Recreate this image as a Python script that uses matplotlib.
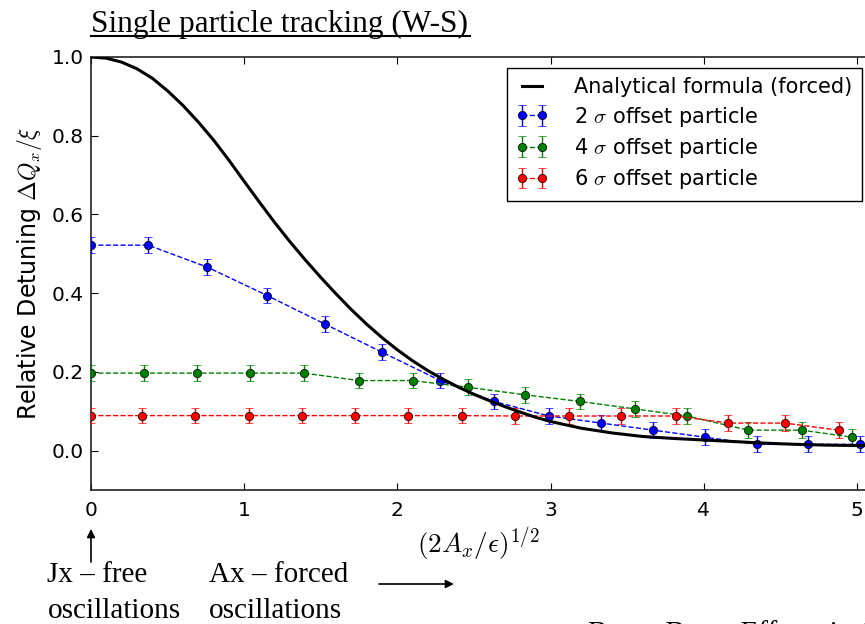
import matplotlib
matplotlib.use("Agg")
import matplotlib.pyplot as plt

plt.rcParams['mathtext.fontset'] = 'cm'
plt.rcParams['font.family'] = ['DejaVu Sans']

# Analytical curve
curve_x = [0.0, 0.1, 0.2, 0.3, 0.4, 0.5, 0.6, 0.7, 0.8, 0.9, 1.0, 1.1, 1.2, 1.3, 1.4, 1.5,
           1.6, 1.7, 1.8, 1.9, 2.0, 2.1, 2.2, 2.3, 2.4, 2.5, 2.6, 2.7, 2.8, 2.9, 3.0, 3.2,
           3.4, 3.6, 3.8, 4.0, 4.2, 4.4, 4.6, 4.8, 5.0, 5.3]
curve_y = [1.0, 0.997, 0.987, 0.970, 0.946, 0.914, 0.877, 0.835, 0.789, 0.738, 0.684, 0.631,
           0.579, 0.530, 0.484, 0.440, 0.398, 0.358, 0.321, 0.287, 0.256, 0.228, 0.203,
           0.181, 0.161, 0.143, 0.127, 0.112, 0.098, 0.085, 0.074, 0.057, 0.045, 0.036,
           0.031, 0.027, 0.023, 0.019, 0.016, 0.014, 0.013, 0.012]

# 2 sigma
b_x = [0.0, 0.373, 0.76, 1.15, 1.53, 1.90, 2.28, 2.63, 2.99, 3.33, 3.67, 4.01, 4.35, 4.68, 5.02]
b_y = [0.522, 0.522, 0.466, 0.394, 0.321, 0.250, 0.178, 0.125, 0.088, 0.070, 0.052, 0.034,
       0.016, 0.016, 0.016]
# 4 sigma
g_x = [0.0, 0.347, 0.693, 1.04, 1.39, 1.75, 2.10, 2.46, 2.83, 3.19, 3.55, 3.89, 4.29, 4.64, 4.97]
g_y = [0.197, 0.197, 0.197, 0.197, 0.197, 0.178, 0.178, 0.161, 0.142, 0.125, 0.106, 0.088,
       0.052, 0.052, 0.034]
# 6 sigma
r_x = [0.0, 0.334, 0.682, 1.03, 1.377, 1.72, 2.07, 2.42, 2.77, 3.12, 3.46, 3.82, 4.16, 4.53, 4.88]
r_y = [0.089, 0.089, 0.089, 0.089, 0.089, 0.089, 0.089, 0.089, 0.088, 0.088, 0.088, 0.088,
       0.070, 0.070, 0.052]
err = 0.02

labels = ['Analytical formula (forced)', r'2 $\sigma$ offset particle',
          r'4 $\sigma$ offset particle', r'6 $\sigma$ offset particle']

W, H = 865, 624
fig = plt.figure(figsize=(W / 100, H / 100), dpi=100)
ax = fig.add_axes([91 / W, (H - 490) / H, 6 * 153.2 / W, (490 - 57) / H])

ax.plot(curve_x, curve_y, color='black', lw=2.2, label=labels[0], zorder=4)
for xs, ys, c, lab in [(b_x, b_y, 'b', labels[1]), (g_x, g_y, 'g', labels[2]), (r_x, r_y, 'r', labels[3])]:
    ax.errorbar(xs, ys, yerr=err, fmt='o', ls='--', color=c, lw=1, ms=6, mec='black',
                mew=0.5, ecolor=c, elinewidth=1, capsize=3, label=lab, zorder=3)

ax.set_xlim(0, 6)
ax.set_ylim(-0.1, 1.0)
ax.set_xticks([0, 1, 2, 3, 4, 5, 6])
ax.set_yticks([0.0, 0.2, 0.4, 0.6, 0.8, 1.0])
ax.set_yticklabels(['0.0', '0.2', '0.4', '0.6', '0.8', '1.0'])
ax.tick_params(direction='in', top=True, right=True, length=5, width=0.8, labelsize=14.5)
ax.tick_params(axis='x', pad=8)
ax.tick_params(axis='y', pad=5)
for s in ax.spines.values():
    s.set_color('#222222')
    s.set_linewidth(1.2)

ax.set_ylabel(r'Relative Detuning $\Delta Q_x/\xi$', fontsize=17, labelpad=6)

leg = ax.legend(loc='upper right', bbox_to_anchor=(862 / W, 1 - 68 / H),
                bbox_transform=fig.transFigure, borderaxespad=0, fontsize=15, numpoints=2,
                fancybox=False, framealpha=1, edgecolor='black',
                handlelength=1.55, handletextpad=1.25, labelspacing=0.35, borderpad=0.45)
leg.get_frame().set_linewidth(1.0)

# x label
fig.text(478 / W, 1 - 545 / H, r'$(2A_x/\epsilon)^{1/2}$', fontsize=19.5, ha='center', va='center')

# title with underline
serif = 'Liberation Serif'
fig.text(91 / W, 1 - 32 / H, 'Single particle tracking (W-S)', family=serif, fontsize=22.5,
         ha='left', va='baseline')
fig.add_artist(plt.Line2D([91 / W, 470 / W], [1 - 36 / H, 1 - 36 / H], color='black', lw=1.5))

# bottom annotations
fig.text(47 / W, 1 - 582 / H, 'Jx \u2013 free', family=serif, fontsize=21, ha='left', va='baseline')
fig.text(48 / W, 1 - 618 / H, 'oscillations', family=serif, fontsize=21, ha='left', va='baseline')
fig.text(209 / W, 1 - 582 / H, 'Ax \u2013 forced', family=serif, fontsize=21, ha='left', va='baseline')
fig.text(209 / W, 1 - 618 / H, 'oscillations', family=serif, fontsize=21, ha='left', va='baseline')
fig.text(588 / W, 1 - 621 / H, 'Beam-Beam Effects in Circular Colliders', family=serif,
         fontsize=21, ha='left', va='top')

ap = dict(arrowstyle='-|>', mutation_scale=12, color='black', lw=1.2, shrinkA=0, shrinkB=0)
ax.annotate('', xy=(91, H - 529), xytext=(91, H - 562), xycoords='figure pixels',
            textcoords='figure pixels', arrowprops=ap, annotation_clip=False)
ax.annotate('', xy=(454, H - 584), xytext=(379, H - 584), xycoords='figure pixels',
            textcoords='figure pixels', arrowprops=ap, annotation_clip=False)

fig.savefig('out.png', dpi=100)
